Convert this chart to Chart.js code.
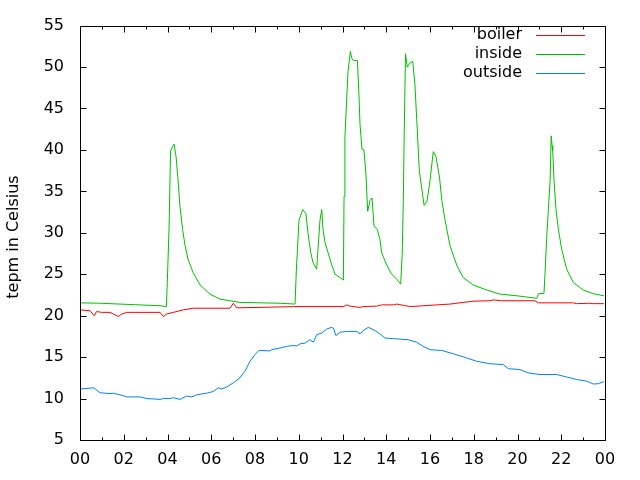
<!DOCTYPE html>
<html>
<head>
<meta charset="utf-8">
<script src="https://cdn.jsdelivr.net/npm/chart.js@4.4.1/dist/chart.umd.min.js"></script>
<style>
  html, body { margin: 0; padding: 0; background: #fff; }
  #wrap { width: 640px; height: 480px; }
</style>
</head>
<body>
<div id="wrap"><canvas id="tempChart" width="640" height="480"></canvas></div>
<script>
// hours of the day
const hourTicks = [0, 2, 4, 6, 8, 10, 12, 14, 16, 18, 20, 22, 24];
const tempTicks = [5, 10, 15, 20, 25, 30, 35, 40, 45, 50, 55];

const seriesNames = ["boiler", "inside", "outside"];
const seriesColors = ["#ff0000", "#00c000", "#0080ff"];

const boilerHours = [0.00, 0.46, 0.65, 0.76, 0.99, 1.37, 1.60, 1.75, 1.91, 2.13, 2.44, 3.66, 3.81, 3.96, 4.27, 4.72, 5.18, 6.86, 7.01, 7.16, 8.23, 9.75, 12.04, 12.19, 12.34, 12.80, 12.95, 13.56, 13.79, 14.32, 14.48, 14.78, 15.09, 15.69, 16.31, 16.91, 17.52, 17.98, 18.74, 18.89, 19.28, 20.80, 20.95, 22.55, 22.70, 23.31, 23.47, 23.95];
const boilerTemps = [20.7, 20.6, 20.0, 20.5, 20.4, 20.4, 20.1, 19.9, 20.2, 20.4, 20.4, 20.4, 19.9, 20.2, 20.4, 20.7, 20.9, 20.9, 21.5, 20.95, 21.0, 21.1, 21.1, 21.3, 21.15, 21.0, 21.1, 21.15, 21.3, 21.3, 21.4, 21.25, 21.1, 21.2, 21.3, 21.4, 21.6, 21.75, 21.8, 21.9, 21.8, 21.8, 21.55, 21.55, 21.45, 21.5, 21.45, 21.45];

const insideHours = [0.00, 0.91, 1.83, 2.74, 3.66, 3.95, 3.99, 4.07, 4.14, 4.23, 4.30, 4.39, 4.47, 4.57, 4.69, 4.80, 4.94, 5.17, 5.49, 5.94, 6.40, 6.86, 7.31, 8.23, 9.14, 9.83, 9.89, 9.94, 10.01, 10.18, 10.33, 10.42, 10.55, 10.65, 10.82, 10.88, 10.97, 11.05, 11.11, 11.20, 11.34, 11.51, 11.66, 11.89, 12.04, 12.07, 12.11, 12.25, 12.36, 12.42, 12.49, 12.68, 12.75, 12.80, 12.89, 12.98, 13.07, 13.15, 13.26, 13.35, 13.44, 13.59, 13.71, 13.79, 14.02, 14.25, 14.48, 14.66, 14.73, 14.78, 14.82, 14.88, 14.96, 15.09, 15.21, 15.31, 15.42, 15.51, 15.73, 15.86, 16.00, 16.15, 16.27, 16.43, 16.54, 16.69, 16.91, 17.22, 17.52, 17.98, 18.59, 19.20, 19.98, 20.57, 20.88, 20.96, 21.21, 21.26, 21.33, 21.41, 21.49, 21.54, 21.58, 21.61, 21.67, 21.76, 21.87, 22.02, 22.25, 22.55, 23.01, 23.47, 23.95];
const insideTemps = [21.55, 21.5, 21.4, 21.3, 21.2, 21.1, 24.0, 30.5, 39.9, 40.4, 40.7, 39.2, 36.8, 33.2, 30.4, 28.5, 26.8, 25.2, 23.7, 22.6, 22.0, 21.8, 21.6, 21.55, 21.5, 21.4, 25.5, 28.0, 31.5, 32.8, 32.3, 30.0, 27.6, 26.4, 25.6, 28.0, 31.5, 32.8, 30.4, 28.8, 27.6, 26.1, 25.0, 24.6, 24.3, 34.4, 41.5, 49.4, 51.9, 51.1, 50.8, 50.8, 46.7, 43.1, 40.1, 40.0, 37.1, 32.6, 33.9, 34.2, 30.8, 30.4, 29.2, 27.6, 26.1, 25.0, 24.4, 23.8, 27.6, 33.9, 41.9, 51.6, 50.0, 50.5, 50.7, 47.9, 42.3, 37.5, 33.3, 33.8, 36.3, 39.8, 39.2, 36.8, 33.9, 31.5, 28.5, 26.1, 24.6, 23.7, 23.1, 22.6, 22.4, 22.2, 22.1, 22.65, 22.7, 25.2, 29.2, 32.8, 36.3, 41.7, 40.5, 39.9, 36.3, 32.8, 30.4, 28.0, 25.6, 24.0, 23.1, 22.65, 22.4];

const outsideHours = [0.00, 0.61, 0.72, 0.91, 1.37, 1.52, 1.98, 2.13, 2.74, 3.05, 3.66, 3.81, 4.11, 4.27, 4.57, 4.88, 5.11, 5.33, 5.79, 6.09, 6.32, 6.48, 6.71, 7.01, 7.31, 7.54, 7.77, 8.00, 8.18, 8.69, 8.76, 9.14, 9.45, 9.75, 9.91, 10.06, 10.29, 10.51, 10.67, 10.82, 11.05, 11.28, 11.51, 11.58, 11.70, 11.89, 12.19, 12.65, 12.80, 12.95, 13.18, 13.49, 13.71, 13.94, 14.48, 15.01, 15.39, 15.69, 16.00, 16.54, 17.07, 17.68, 18.13, 18.74, 19.35, 19.58, 20.11, 20.49, 21.03, 21.79, 22.25, 22.70, 23.16, 23.47, 23.70, 23.95];
const outsideTemps = [11.15, 11.3, 11.1, 10.7, 10.6, 10.65, 10.35, 10.2, 10.2, 10.0, 9.9, 10.0, 10.0, 10.1, 9.9, 10.3, 10.2, 10.45, 10.65, 10.85, 11.3, 11.15, 11.4, 11.9, 12.5, 13.3, 14.5, 15.3, 15.8, 15.75, 15.9, 16.1, 16.3, 16.4, 16.35, 16.6, 16.7, 17.1, 16.8, 17.7, 17.9, 18.4, 18.6, 18.5, 17.6, 18.0, 18.1, 18.1, 17.8, 18.2, 18.6, 18.2, 17.8, 17.3, 17.2, 17.1, 16.8, 16.3, 15.9, 15.8, 15.4, 14.9, 14.5, 14.2, 14.1, 13.6, 13.5, 13.1, 12.9, 12.9, 12.6, 12.3, 12.1, 11.75, 11.8, 12.05];

const yTitle = "tepm in Celsius";
const FONT = "DejaVu Sans";
const FONT_SIZE = 16;

function toPoints(xs, ys) {
  return xs.map((x, i) => ({ x: x, y: ys[i] }));
}

// gnuplot style frame with inward ticks on all four sides
const framePlugin = {
  id: "frame",
  afterDraw(chart) {
    const { ctx, chartArea: a, scales } = chart;
    const l = Math.round(a.left) + 0.5;
    const r = Math.round(a.right) + 0.5;
    const t = Math.round(a.top) + 0.5;
    const b = Math.round(a.bottom) + 0.5;
    ctx.save();
    ctx.strokeStyle = "#000";
    ctx.lineWidth = 1;
    ctx.beginPath();
    ctx.rect(l, t, r - l, b - t);
    for (let h = 0; h <= 24; h++) {
      const x = Math.round(scales.x.getPixelForValue(h)) + 0.5;
      const len = h % 2 === 0 ? 6 : 3;
      ctx.moveTo(x, b); ctx.lineTo(x, b - len);
      ctx.moveTo(x, t); ctx.lineTo(x, t + len);
    }
    tempTicks.forEach((v) => {
      const y = Math.round(scales.y.getPixelForValue(v)) + 0.5;
      ctx.moveTo(l, y); ctx.lineTo(l + 6, y);
      ctx.moveTo(r, y); ctx.lineTo(r - 6, y);
    });
    ctx.stroke();

    // y axis title
    ctx.fillStyle = "#000";
    ctx.font = FONT_SIZE + "px '" + FONT + "'";
    ctx.translate(14, 237);
    ctx.rotate(-Math.PI / 2);
    ctx.textAlign = "center";
    ctx.textBaseline = "middle";
    ctx.fillText(yTitle, 0, 0);
    ctx.restore();
  },
};

// key in the top right corner, text right aligned, sample line after it
const keyPlugin = {
  id: "key",
  afterDraw(chart) {
    const ctx = chart.ctx;
    seriesNames.forEach((name, i) => {
      const y = 35 + i * 19;
      ctx.save();
      ctx.font = FONT_SIZE + "px '" + FONT + "'";
      ctx.textAlign = "right";
      ctx.textBaseline = "middle";
      ctx.fillStyle = "#000";
      ctx.fillText(name, 522, y);
      ctx.beginPath();
      ctx.moveTo(536, y + 0.5);
      ctx.lineTo(585, y + 0.5);
      ctx.lineWidth = 1;
      ctx.strokeStyle = seriesColors[i];
      ctx.stroke();
      ctx.restore();
    });
  },
};

const seriesData = [
  toPoints(boilerHours, boilerTemps),
  toPoints(insideHours, insideTemps),
  toPoints(outsideHours, outsideTemps),
];

new Chart(document.getElementById("tempChart"), {
  type: "line",
  data: {
    datasets: seriesNames.map((name, i) => ({
      label: name,
      data: seriesData[i],
      borderColor: seriesColors[i],
      borderWidth: 1,
      pointRadius: 0,
      tension: 0,
      fill: false,
    })),
  },
  options: {
    responsive: false,
    animation: false,
    events: [],
    layout: { padding: { top: 20, right: 35, left: 0, bottom: 0 } },
    plugins: { legend: { display: false }, tooltip: { enabled: false } },
    scales: {
      x: {
        type: "linear",
        min: 0,
        max: 24,
        afterBuildTicks: (s) => { s.ticks = hourTicks.map((v) => ({ value: v })); },
        afterFit: (s) => { s.height = 40; },
        grid: { display: false, drawTicks: false },
        border: { display: false },
        ticks: {
          padding: 10,
          color: "#000",
          font: { family: FONT, size: FONT_SIZE },
          maxRotation: 0,
          autoSkip: false,
          callback: (v) => String(v % 24).padStart(2, "0"),
        },
      },
      y: {
        min: 5,
        max: 55,
        afterBuildTicks: (s) => { s.ticks = tempTicks.map((v) => ({ value: v })); },
        afterFit: (s) => { s.width = 80; },
        grid: { display: false, drawTicks: false },
        border: { display: false },
        ticks: {
          padding: 16,
          color: "#000",
          font: { family: FONT, size: FONT_SIZE },
        },
      },
    },
  },
  plugins: [framePlugin, keyPlugin],
});
</script>
</body>
</html>
